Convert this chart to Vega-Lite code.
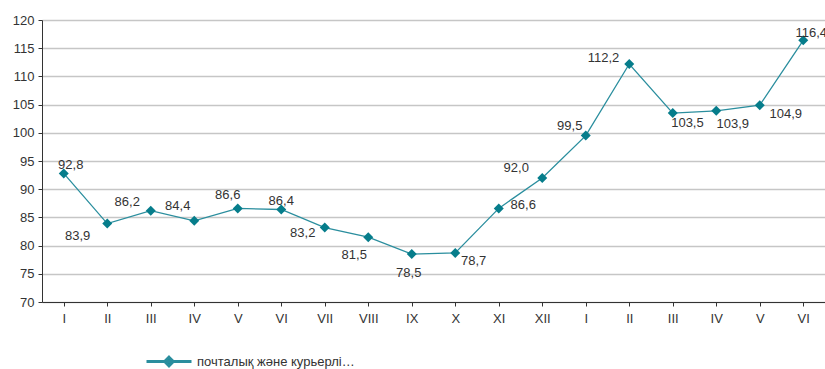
{
  "$schema": "https://vega.github.io/schema/vega-lite/v6.json",
  "width": 783,
  "height": 282,
  "autosize": {"type": "none"},
  "padding": {"left": 42, "top": 20, "right": 0, "bottom": 67},
  "background": "white",
  "config": {"view": {"stroke": null}, "font": "Liberation Sans"},
  "data": {
    "values": [
      {"key": "2009-01", "month": "I", "value": 92.8, "label": "92,8"},
      {"key": "2009-02", "month": "II", "value": 83.9, "label": "83,9"},
      {"key": "2009-03", "month": "III", "value": 86.2, "label": "86,2"},
      {"key": "2009-04", "month": "IV", "value": 84.4, "label": "84,4"},
      {"key": "2009-05", "month": "V", "value": 86.6, "label": "86,6"},
      {"key": "2009-06", "month": "VI", "value": 86.4, "label": "86,4"},
      {"key": "2009-07", "month": "VII", "value": 83.2, "label": "83,2"},
      {"key": "2009-08", "month": "VIII", "value": 81.5, "label": "81,5"},
      {"key": "2009-09", "month": "IX", "value": 78.5, "label": "78,5"},
      {"key": "2009-10", "month": "X", "value": 78.7, "label": "78,7"},
      {"key": "2009-11", "month": "XI", "value": 86.6, "label": "86,6"},
      {"key": "2009-12", "month": "XII", "value": 92.0, "label": "92,0"},
      {"key": "2010-01", "month": "I", "value": 99.5, "label": "99,5"},
      {"key": "2010-02", "month": "II", "value": 112.2, "label": "112,2"},
      {"key": "2010-03", "month": "III", "value": 103.5, "label": "103,5"},
      {"key": "2010-04", "month": "IV", "value": 103.9, "label": "103,9"},
      {"key": "2010-05", "month": "V", "value": 104.9, "label": "104,9"},
      {"key": "2010-06", "month": "VI", "value": 116.4, "label": "116,4"}
    ]
  },
  "encoding": {
    "x": {
      "field": "key",
      "type": "ordinal",
      "scale": {"paddingInner": 0, "paddingOuter": 0},
      "axis": {
        "title": null,
        "labelAngle": 0,
        "tickSize": 4,
        "tickColor": "#333333",
        "domainColor": "#333333",
        "labelPadding": 6,
        "labelFontSize": 13,
        "labelColor": "#333333",
        "grid": false,
        "labelExpr": "['I','II','III','IV','V','VI','VII','VIII','IX','X','XI','XII'][toNumber(slice(datum.value,5))-1]"
      }
    },
    "y": {
      "field": "value",
      "type": "quantitative",
      "scale": {"domain": [70, 120], "nice": false, "zero": false},
      "axis": {
        "title": null,
        "values": [70, 75, 80, 85, 90, 95, 100, 105, 110, 115, 120],
        "grid": true,
        "gridColor": "#c6c6c6",
        "gridWidth": 1.5,
        "domainColor": "#333333",
        "tickColor": "#333333",
        "tickSize": 4,
        "labelPadding": 4,
        "labelFontSize": 13,
        "labelColor": "#333333"
      }
    }
  },
  "layer": [
    {
      "mark": {"type": "line", "strokeWidth": 1.3},
      "encoding": {
        "color": {
          "datum": "почталық және курьерлік қызметтердің нақты көлем индексі, барлығы",
          "scale": {"range": ["#2a8e9e"]},
          "legend": {
            "orient": "none",
            "legendX": 103,
            "legendY": 317.5,
            "title": null,
            "symbolType": "M-1,0L1,0M0,-0.19L0.19,0L0,0.19L-0.19,0Z",
            "symbolSize": 2025,
            "symbolStrokeWidth": 3,
            "symbolFillColor": "#0b7d8b",
            "symbolStrokeColor": "#2a8e9e",
            "labelFontSize": 13,
            "labelColor": "#333333",
            "labelOffset": 4
          }
        }
      }
    },
    {
      "mark": {"type": "point", "shape": "diamond", "filled": true, "size": 100, "color": "#067d8b", "opacity": 1},
      "encoding": {}
    },
    {
      "mark": {
        "type": "text",
        "fontSize": 13,
        "color": "#333333",
        "baseline": "middle",
        "align": "center",
        "dx": {"expr": "[7,-29.6,-23.5,-16.5,-10,0,-22,-14,-3,18.4,24.5,-26,-16,-25.7,14.7,16.5,26,8][indexof(['2009-01','2009-02','2009-03','2009-04','2009-05','2009-06','2009-07','2009-08','2009-09','2009-10','2009-11','2009-12','2010-01','2010-02','2010-03','2010-04','2010-05','2010-06'], datum.key)]"},
        "dy": {"expr": "[-8,12,-9,-14.7,-13,-9,5,17.5,18.5,8,-3,-9.7,-10,-6,10,13,9,-7][indexof(['2009-01','2009-02','2009-03','2009-04','2009-05','2009-06','2009-07','2009-08','2009-09','2009-10','2009-11','2009-12','2010-01','2010-02','2010-03','2010-04','2010-05','2010-06'], datum.key)]"}
      },
      "encoding": {"text": {"field": "label"}}
    },
    {
      "data": {
        "values": [
          {"key": "2009-07", "year": "2009"},
          {"key": "2010-04", "year": "2010"}
        ]
      },
      "mark": {
        "type": "text",
        "fontSize": 13,
        "color": "#333333",
        "baseline": "middle",
        "align": "center",
        "dx": {"expr": "datum.year == '2009' ? -4 : 10"}
      },
      "encoding": {
        "y": {"datum": 63},
        "text": {"field": "year"}
      }
    }
  ]
}
